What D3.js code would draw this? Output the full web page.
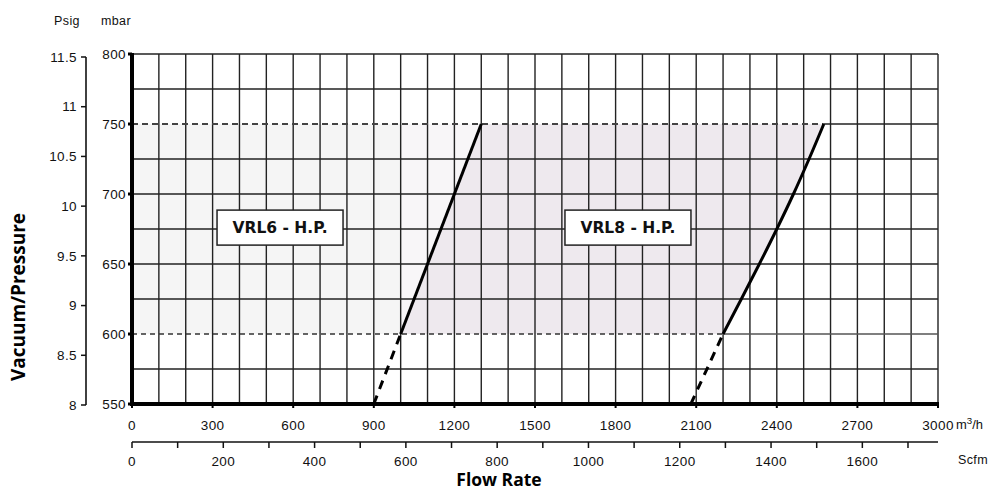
<!DOCTYPE html>
<html><head><meta charset="utf-8">
<script src="https://cdn.jsdelivr.net/npm/d3@7"></script>
<style>
html,body{margin:0;padding:0;background:#fff;}
svg{display:block;}
</style></head>
<body>
<svg id="chart" width="994" height="491"></svg>
<script>
// ---- data ----
const flowTicks = [0,300,600,900,1200,1500,1800,2100,2400,2700,3000];
const mbarTicks = [550,600,650,700,750,800];
const psigTicks = [8,8.5,9,9.5,10,10.5,11,11.5];
const scfmLabels = [0,200,400,600,800,1000,1200,1400,1600];
const scfmMinor = [0,100,200,300,400,500,600,700,800,900,1000,1100,1200,1300,1400,1500,1600,1700];
const vrl6Solid = [[1000,600],[1300,750]];
const vrl6Dash = [[900,550],[1000,600]];
const vrl8Solid = [[2200,600],[2268,625],[2335,650],[2400,675],[2462,700],[2520,725],[2575,750]];
const vrl8Dash = [[2080,550],[2200,600]];
const limitMax = 750, limitMin = 600;
const labels = [{text:"VRL6 - H.P.", x:551, y:676},{text:"VRL8 - H.P.", x:1846, y:676}];
const M3H_PER_SCFM = 1.699;

// ---- scales ----
const svg = d3.select("#chart");
const x = d3.scaleLinear().domain([0,3000]).range([132,938]);
const y = d3.scaleLinear().domain([550,800]).range([404,54]);
const yPsi = d3.scaleLinear().domain([8,11.5]).range([405,57]);
const xScfm = d3.scaleLinear().domain([0,3000/M3H_PER_SCFM]).range([132,938]);
const line = d3.line().x(d=>x(d[0])).y(d=>y(d[1]));
const smooth = d3.line().x(d=>x(d[0])).y(d=>y(d[1])).curve(d3.curveCatmullRom);

// ---- shaded regions ----
const grayPoly = [[0,limitMin],[vrl6Solid[0][0],limitMin],[vrl6Solid[0][0],limitMax],[0,limitMax]];
const lightPoly = [vrl6Solid[0],vrl6Solid[1],[vrl6Solid[0][0],limitMax]];
const pinkPoly = vrl6Solid.concat(vrl8Solid.slice().reverse());
const poly = d3.line().x(d=>x(d[0])).y(d=>y(d[1])).curve(d3.curveLinearClosed);
svg.append("path").attr("d",poly(grayPoly)).attr("fill","#f5f5f5");
svg.append("path").attr("d",poly(lightPoly)).attr("fill","#f8f6f8");
svg.append("path").attr("d",poly(pinkPoly)).attr("fill","#eee9ee");

// ---- grid ----
const g = svg.append("g").attr("stroke","#222").attr("stroke-width",1.4);
d3.range(0,3001,100).forEach(v=>{
  g.append("line").attr("x1",x(v)).attr("x2",x(v)).attr("y1",y(550)).attr("y2",y(800));
});
d3.range(550,801,25).forEach(v=>{
  if (v===limitMax || v===limitMin) return;
  g.append("line").attr("x1",x(0)).attr("x2",x(3000)).attr("y1",y(v)).attr("y2",y(v));
});
g.append("line").attr("x1",x(vrl8Solid[vrl8Solid.length-1][0])).attr("x2",x(3000)).attr("y1",y(limitMax)).attr("y2",y(limitMax));
g.append("line").attr("x1",x(vrl8Solid[0][0])).attr("x2",x(3000)).attr("y1",y(limitMin)).attr("y2",y(limitMin)).attr("stroke","#555");

// dashed limit lines
svg.append("line").attr("x1",x(0)).attr("x2",x(vrl8Solid[vrl8Solid.length-1][0]))
  .attr("y1",y(limitMax)).attr("y2",y(limitMax))
  .attr("stroke","#444").attr("stroke-width",2).attr("stroke-dasharray","6,4");
svg.append("line").attr("x1",x(0)).attr("x2",x(vrl8Solid[0][0]))
  .attr("y1",y(limitMin)).attr("y2",y(limitMin))
  .attr("stroke","#333").attr("stroke-width",1.3).attr("stroke-dasharray","5,4");

// ---- curves ----
[vrl6Solid, vrl8Solid].forEach(d=>{
  svg.append("path").attr("d",smooth(d)).attr("fill","none").attr("stroke","#000").attr("stroke-width",3);
});
[vrl6Dash, vrl8Dash].forEach(d=>{
  svg.append("path").attr("d",line(d)).attr("fill","none").attr("stroke","#000").attr("stroke-width",3).attr("stroke-dasharray","9,7");
});

// ---- main axes (thick) ----
svg.append("line").attr("x1",x(0)).attr("x2",x(0)).attr("y1",y(800)-1).attr("y2",y(550)+2)
  .attr("stroke","#000").attr("stroke-width",4);
svg.append("line").attr("x1",x(0)-2).attr("x2",x(3000)+1).attr("y1",y(550)).attr("y2",y(550))
  .attr("stroke","#000").attr("stroke-width",4);

const font = "'Liberation Sans', Arial, sans-serif";
const fs = 13.5;
const ls = 0.4;
const ax = svg.append("g");
function txt(xp, yp, s, anchor, size){
  return ax.append("text").attr("x",xp).attr("y",yp).attr("dy","0.35em").attr("text-anchor",anchor)
    .attr("font-family",font).attr("font-size",size||fs).attr("letter-spacing",ls).attr("fill","#111").text(s);
}
// mbar axis
mbarTicks.forEach(v=>{
  ax.append("line").attr("x1",x(0)-4).attr("x2",x(0)).attr("y1",y(v)).attr("y2",y(v)).attr("stroke","#000").attr("stroke-width",3);
  txt(x(0)-6, y(v), v, "end");
});
// m3/h axis
flowTicks.forEach(v=>{
  ax.append("line").attr("x1",x(v)).attr("x2",x(v)).attr("y1",y(550)).attr("y2",y(550)+4).attr("stroke","#000").attr("stroke-width",2);
  txt(x(v), 425, v, "middle");
});
ax.append("text").attr("x",956).attr("y",425).attr("dy","0.35em")
  .attr("font-family",font).attr("font-size",12).attr("fill","#111")
  .attr("textLength",27).attr("lengthAdjust","spacingAndGlyphs")
  .html('m<tspan dy="-5" font-size="9">3</tspan><tspan dy="5">/h</tspan>');

// psig axis
const psiX = 86;
ax.append("line").attr("x1",psiX).attr("x2",psiX).attr("y1",yPsi(11.5)).attr("y2",yPsi(8))
  .attr("stroke","#111").attr("stroke-width",1.6);
psigTicks.forEach(v=>{
  ax.append("line").attr("x1",psiX-5).attr("x2",psiX).attr("y1",yPsi(v)).attr("y2",yPsi(v)).attr("stroke","#111").attr("stroke-width",1.5);
  txt(psiX-9, yPsi(v), v, "end");
});
txt(67, 21, "Psig", "middle", 12.5);
txt(116, 21, "mbar", "middle", 12.5);

// scfm axis
const scY = 442;
ax.append("line").attr("x1",xScfm(0)).attr("x2",x(3000)).attr("y1",scY).attr("y2",scY)
  .attr("stroke","#111").attr("stroke-width",1.6);
scfmMinor.forEach(v=>{
  ax.append("line").attr("x1",xScfm(v)).attr("x2",xScfm(v)).attr("y1",scY).attr("y2",scY+6).attr("stroke","#111").attr("stroke-width",1.5);
});
scfmLabels.forEach(v=>{ txt(xScfm(v), 461, v, "middle"); });
txt(973, 460, "Scfm", "middle", 12.5);

// titles
const tfont = "'Open Sans', sans-serif";
svg.append("text").attr("transform","translate(25,297) rotate(-90)").attr("text-anchor","middle")
  .attr("font-family",tfont).attr("font-weight",700).attr("font-size",19).attr("fill","#000").text("Vacuum/Pressure");
svg.append("text").attr("x",499).attr("y",486).attr("text-anchor","middle")
  .attr("font-family",tfont).attr("font-weight",700).attr("font-size",17.5).attr("fill","#000").text("Flow Rate");

// labels
labels.forEach(l=>{
  const cx = x(l.x), cy = y(l.y);
  svg.append("rect").attr("x",cx-63).attr("y",cy-17.5).attr("width",126).attr("height",35)
    .attr("fill","#fff").attr("stroke","#222").attr("stroke-width",1.5);
  svg.append("text").attr("x",cx).attr("y",cy).attr("dy","0.36em").attr("text-anchor","middle")
    .attr("font-family","'DejaVu Sans', sans-serif").attr("font-weight",700).attr("font-size",15.5)
    .attr("fill","#111").text(l.text);
});
</script>
</body></html>
